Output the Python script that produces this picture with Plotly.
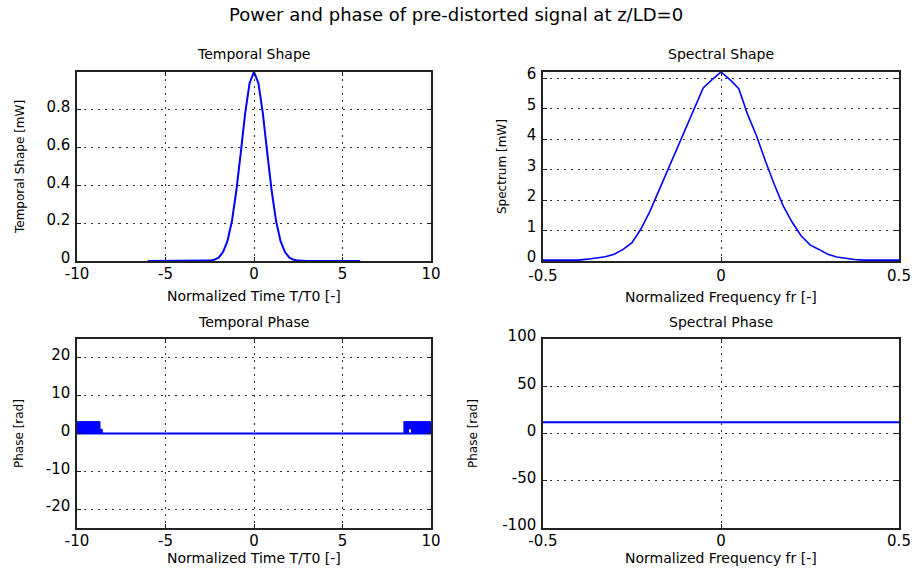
import plotly.graph_objects as go

# ---- data ----
# temporal power of the pulse (mW) vs normalized time T/T0
time_t = [-6, -3, -2.5, -2.25, -2, -1.75, -1.5, -1.25, -1, -0.75, -0.5, -0.25, 0,
          0.25, 0.5, 0.75, 1, 1.25, 1.5, 1.75, 2, 2.25, 2.5, 3, 6]
power_t = [0, 0, 0.002, 0.006, 0.018, 0.047, 0.105, 0.21, 0.37, 0.57, 0.78, 0.94, 1.0,
           0.94, 0.78, 0.57, 0.37, 0.21, 0.105, 0.047, 0.018, 0.006, 0.002, 0, 0]

# spectrum (mW) vs normalized frequency
freq = [-0.5, -0.475, -0.45, -0.425, -0.4, -0.375, -0.35, -0.325, -0.3, -0.275, -0.25,
        -0.225, -0.2, -0.175, -0.15, -0.125, -0.1, -0.075, -0.05, -0.025, 0,
        0.025, 0.05, 0.075, 0.1, 0.125, 0.15, 0.175, 0.2, 0.225, 0.25,
        0.275, 0.3, 0.325, 0.35, 0.375, 0.4, 0.425, 0.45, 0.475, 0.5]
spectrum = [0.03, 0.03, 0.03, 0.03, 0.03, 0.06, 0.1, 0.14, 0.22, 0.38, 0.6,
            1.05, 1.62, 2.3, 3.0, 3.62, 4.3, 5.02, 5.68, 5.95, 6.2,
            5.95, 5.65, 4.8, 4.1, 3.27, 2.5, 1.8, 1.27, 0.83, 0.53,
            0.38, 0.22, 0.13, 0.08, 0.05, 0.03, 0.03, 0.03, 0.03, 0.03]

# temporal phase (rad): flat zero line plus wrapped-phase regions at the window edges
phase_line_t = [-10, 10]
phase_line = [0, 0]
phase_left_t = [-10, -8.7, -8.7, -8.57, -8.57]
phase_left = [3.14, 3.14, 1.1, 1.1, 0]
phase_right_low_t = [8.44, 8.76, 8.76, 8.87, 8.87, 10]
phase_right_low = [0, 0, 1.1, 1.1, 0, 0]
phase_right_top_t = [8.44, 10]
phase_right_top = [3.14, 3.14]

# spectral phase (rad)
sphase_f = [-0.5, 0.5]
sphase = [12, 12]

# tick labels
t_ticks = [-10, -5, 0, 5, 10]
t_labels = ["-10", "-5", "0", "5", "10"]
f_ticks = [-0.5, 0, 0.5]
f_labels = ["-0.5", "0", "0.5"]
p_ticks = [0, 0.2, 0.4, 0.6, 0.8]
p_labels = ["0", "0.2", "0.4", "0.6", "0.8"]
s_ticks = [0, 1, 2, 3, 4, 5, 6]
s_labels = ["0", "1", "2", "3", "4", "5", "6"]
ph_ticks = [-20, -10, 0, 10, 20]
ph_labels = ["-20", "-10", "0", "10", "20"]
sp_ticks = [-100, -50, 0, 50, 100]
sp_labels = ["-100", "-50", "0", "50", "100"]

BLUE = "#0000ff"
FONT = "DejaVu Sans"
W, H = 912, 576


def px_x(x):
    return x / W


def px_y(y):
    return 1 - y / H


fig = go.Figure()

fig.add_trace(go.Scatter(x=time_t, y=power_t, mode="lines",
                         line=dict(color=BLUE, width=2), xaxis="x", yaxis="y"))
fig.add_trace(go.Scatter(x=freq, y=spectrum, mode="lines",
                         line=dict(color=BLUE, width=1.6), xaxis="x2", yaxis="y2"))

fig.add_trace(go.Scatter(x=phase_left_t, y=phase_left, mode="lines", fill="tozeroy",
                         fillcolor=BLUE, line=dict(color=BLUE, width=1),
                         xaxis="x3", yaxis="y3"))
fig.add_trace(go.Scatter(x=phase_right_low_t, y=phase_right_low, mode="lines",
                         line=dict(color=BLUE, width=0), xaxis="x3", yaxis="y3"))
fig.add_trace(go.Scatter(x=phase_right_top_t, y=phase_right_top, mode="lines", fill="tonexty",
                         fillcolor=BLUE, line=dict(color=BLUE, width=1),
                         xaxis="x3", yaxis="y3"))
fig.add_trace(go.Scatter(x=phase_line_t, y=phase_line, mode="lines",
                         line=dict(color=BLUE, width=2), xaxis="x3", yaxis="y3"))

fig.add_trace(go.Scatter(x=sphase_f, y=sphase, mode="lines",
                         line=dict(color=BLUE, width=2), xaxis="x4", yaxis="y4"))

# axes boxes in pixels: (left, right, top, bottom)
boxes = {
    1: (77, 431, 72, 261),
    2: (543, 899, 72, 261),
    3: (77, 431, 339, 528),
    4: (543, 899, 339, 528),
}

common = dict(showline=True, linecolor="#222222", linewidth=1.5, mirror="ticks",
              ticks="inside", ticklen=4, tickcolor="#222222",
              showgrid=True, gridcolor="#333333", gridwidth=1, griddash="2px,5px",
              zeroline=False, tickfont=dict(family=FONT, size=15, color="black"),
              automargin=False, fixedrange=True)

# per panel: x range, x ticks, x labels, y range, y ticks, y labels,
# x-label standoff, y-label shift
axis_specs = {
    1: ([-10, 10], t_ticks, t_labels, [0, 0.999], p_ticks, p_labels, -2, -3),
    2: ([-0.5, 0.5], f_ticks, f_labels, [0, 6.2], s_ticks, s_labels, 0, -4),
    3: ([-10, 10], t_ticks, t_labels, [-25, 25], ph_ticks, ph_labels, -2, -3),
    4: ([-0.5, 0.5], f_ticks, f_labels, [-100, 100], sp_ticks, sp_labels, -2, -3),
}

layout = {}
for k, (l, r, t, b) in boxes.items():
    xr, xt, xl, yr, yt, yl, xstand, yshift = axis_specs[k]
    xname = "xaxis" if k == 1 else f"xaxis{k}"
    yname = "yaxis" if k == 1 else f"yaxis{k}"
    xa = dict(common, domain=[px_x(l), px_x(r)], range=xr, tickvals=xt, ticktext=xl,
              ticklabelstandoff=xstand, anchor="y" if k == 1 else f"y{k}")
    ya = dict(common, domain=[px_y(b), px_y(t)], range=yr, tickvals=yt, ticktext=yl,
              ticklabelshift=yshift, ticklabelstandoff=2, anchor="x" if k == 1 else f"x{k}")
    layout[xname] = xa
    layout[yname] = ya

fig.update_layout(**layout)

annotations = []


def text(x, y, s, size, angle=0):
    annotations.append(dict(x=px_x(x), y=px_y(y), xref="paper", yref="paper", text=s,
                            showarrow=False, xanchor="center", yanchor="middle",
                            textangle=angle, font=dict(family=FONT, size=size, color="black")))


text(456, 15, "Power and phase of pre-distorted signal at z/LD=0", 18)
text(254, 54, "Temporal Shape", 14)
text(721, 54, "Spectral Shape", 14)
text(254, 322, "Temporal Phase", 14)
text(721, 322, "Spectral Phase", 14)
text(254, 296, "Normalized Time T/T0 [-]", 14)
text(721, 297, "Normalized Frequency fr [-]", 14)
text(254, 558, "Normalized Time T/T0 [-]", 14)
text(721, 558, "Normalized Frequency fr [-]", 14)
text(20, 167, "Temporal Shape [mW]", 12, -90)
text(502, 167, "Spectrum [mW]", 12, -90)
text(19, 434, "Phase [rad]", 12, -90)
text(473, 434, "Phase [rad]", 12, -90)

fig.update_layout(
    width=W, height=H,
    margin=dict(l=0, r=0, t=0, b=0),
    paper_bgcolor="white", plot_bgcolor="white",
    showlegend=False,
    annotations=annotations,
)

fig.write_html("out.html")
